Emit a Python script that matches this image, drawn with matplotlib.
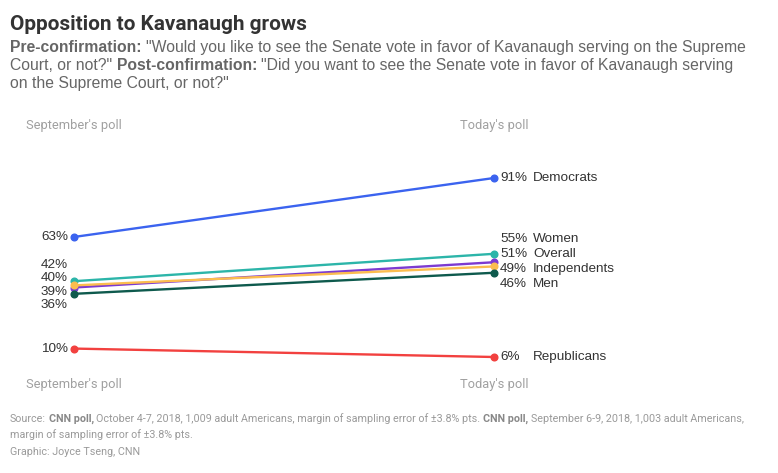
import matplotlib
matplotlib.use("Agg")
import matplotlib.pyplot as plt
from matplotlib import font_manager as fm

# ---------------- data ----------------
groups = ["Democrats", "Women", "Overall", "Independents", "Men", "Republicans"]
september = [63, 42, 39, 40, 36, 10]
today = [91, 55, 51, 49, 46, 6]
colors = ["#3b63ef", "#2cb5a9", "#7c3bd1", "#fbbd4f", "#0e5a4d", "#f2413f"]
col_labels = ["September's poll", "Today's poll"]

title = "Opposition to Kavanaugh grows"
subtitle_lines = [
    [("Pre-confirmation:", "bold"), ('"Would you like to see the Senate vote in favor of Kavanaugh serving on the Supreme', "normal")],
    [('Court, or not?"', "normal"), ("Post-confirmation:", "bold"), ('"Did you want to see the Senate vote in favor of Kavanaugh serving', "normal")],
    [('on the Supreme Court, or not?"', "normal")],
]
footer_lines = [
    [("Source:", "normal"), ("CNN poll,", "bold"), ("October 4-7, 2018, 1,009 adult Americans, margin of sampling error of \u00b13.8% pts.", "normal"),
     ("CNN poll,", "bold"), ("September 6-9, 2018, 1,003 adult Americans,", "normal")],
    [("margin of sampling error of \u00b13.8% pts.", "normal")],
    [("Graphic: Joyce Tseng, CNN", "normal")],
]

# ---------------- fonts ----------------
def has_font(name):
    try:
        fm.findfont(fm.FontProperties(family=name), fallback_to_default=False)
        return True
    except Exception:
        return False

NARROW = "Liberation Sans Narrow" if has_font("Liberation Sans Narrow") else "Roboto"
BODY = "Liberation Sans"

W, H = 778, 473
fig = plt.figure(figsize=(W / 100, H / 100), dpi=100)
fig.patch.set_facecolor("white")
renderer = fig.canvas.get_renderer()

def text_width(s, **kw):
    t1 = fig.text(0, 0, "|" + s + "|", **kw)
    t2 = fig.text(0, 0, "||", **kw)
    w = t1.get_window_extent(renderer).width - t2.get_window_extent(renderer).width
    t1.remove(); t2.remove()
    return w

def line_width(pieces, size, family):
    space = text_width(" ", fontsize=size, family=family)
    total = 0
    for s, weight in pieces:
        total += text_width(s, fontsize=size, family=family, fontweight=weight) + space
    return total - space

def fit_size(pieces, family, target, start=10.0):
    w = line_width(pieces, start, family)
    return start * target / w

def rich_line(x_px, y_px, pieces, size, family, colors_by_weight):
    x = x_px
    space = text_width(" ", fontsize=size, family=family)
    for s, weight in pieces:
        kw = dict(fontsize=size, family=family, fontweight=weight,
                  color=colors_by_weight[weight])
        fig.text(x / W, 1 - y_px / H, s, ha="left", va="baseline", **kw)
        x += text_width(s, **kw) + space

# title
tsize = fit_size([(title, "bold")], NARROW, 298, 16)
fig.text(10 / W, 1 - 30 / H, title, fontsize=tsize, fontweight="bold",
         family=NARROW, color="#333333", ha="left", va="baseline")

# subtitle
for i, line in enumerate(subtitle_lines):
    rich_line(10, 52 + i * 18, line, 11.3, BODY, {"bold": "#666666", "normal": "#666666"})

# footer
fsize = fit_size(footer_lines[0], NARROW, 733, 8)
for i, line in enumerate(footer_lines):
    rich_line(10, 422 + i * 16.5, line, fsize, NARROW, {"bold": "#888888", "normal": "#9a9a9a"})

# ---------------- chart ----------------
x_left_px, x_right_px = 74, 494
y_top_px, y_bot_px = 178, 357
ax = fig.add_axes([x_left_px / W, 1 - y_bot_px / H,
                   (x_right_px - x_left_px) / W, (y_bot_px - y_top_px) / H])
ax.set_xlim(0, 1)
ax.set_ylim(min(today + september), max(today + september))
ax.set_axis_off()

for g, a, b, c in zip(groups, september, today, colors):
    ax.plot([0, 1], [a, b], color=c, lw=1.7, solid_capstyle="round", clip_on=False, zorder=2)
    ax.plot([0, 1], [a, b], "o", color=c, ms=4.8, clip_on=False, zorder=3)

def dodge(ys, gap):
    # ys in display pixels; returns label positions with min spacing
    order = sorted(range(len(ys)), key=lambda i: ys[i])
    pos = [ys[i] for i in order]
    for _ in range(500):
        moved = False
        for k in range(len(pos) - 1):
            d = pos[k + 1] - pos[k]
            if d < gap - 1e-6:
                shift = (gap - d) / 2
                pos[k] -= shift
                pos[k + 1] += shift
                moved = True
        if not moved:
            break
    out = [0] * len(ys)
    for k, i in enumerate(order):
        out[i] = pos[k]
    return out

fig.canvas.draw()
trans = ax.transData
px_per_pt = 100 / 72.0
label_kw = dict(fontsize=9.7, family=BODY, color="#333333", va="center")

left_disp = [trans.transform((0, v))[1] for v in september]
right_disp = [trans.transform((1, v))[1] for v in today]
left_lab = dodge(left_disp, 13.6)
right_lab = dodge(right_disp, 15.0)

def bias(d, l):
    # dodged labels sit slightly higher in the reference
    return l - d + (2 if abs(l - d) > 0.5 else 0)

for v, d, l in zip(september, left_disp, left_lab):
    ax.annotate(f"{v}%", xy=(0, v), xytext=(-6 / px_per_pt, bias(d, l) / px_per_pt),
                textcoords="offset points", ha="right", annotation_clip=False, **label_kw)
for g, v, d, l in zip(groups, today, right_disp, right_lab):
    off = bias(d, l) / px_per_pt
    ax.annotate(f"{v}%", xy=(1, v), xytext=(6 / px_per_pt, off),
                textcoords="offset points", ha="left", annotation_clip=False, **label_kw)
    ax.annotate(g, xy=(1, v), xytext=(39 / px_per_pt, off),
                textcoords="offset points", ha="left", annotation_clip=False, **label_kw)

# column headers (top and bottom)
for xp, lab in zip([x_left_px, x_right_px], col_labels):
    for yp in (125, 384):
        fig.text(xp / W, 1 - yp / H, lab, fontsize=9.3, family=NARROW, color="#a0a0a0",
                 ha="center", va="center")

fig.savefig("out.png", dpi=100, facecolor="white")
